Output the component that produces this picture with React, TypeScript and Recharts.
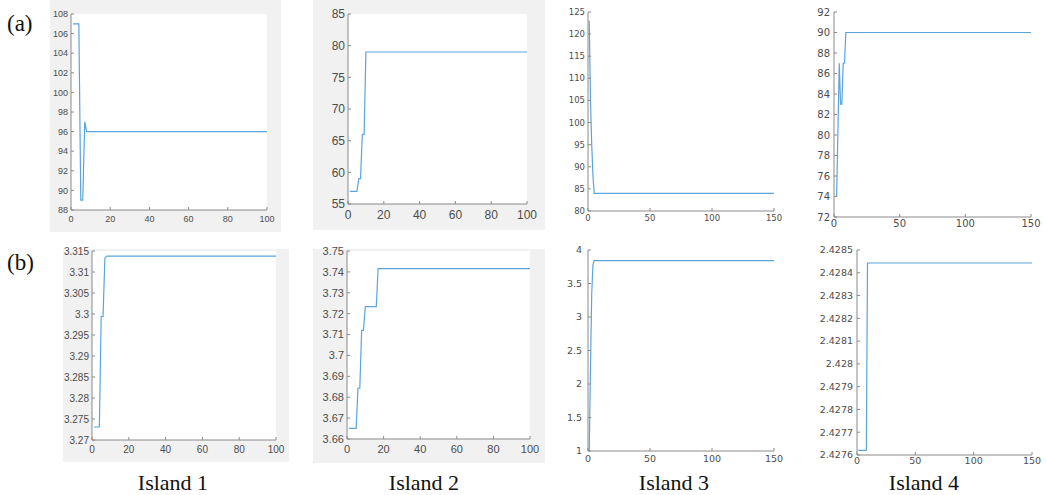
import React from "react";
import { LineChart, Line, XAxis, YAxis, CartesianGrid } from "recharts";

// iteration where the value changes, and the value there (lines are straight between them)
const a1X = [1, 4, 5, 6, 7, 8, 100];
const a1Y = [107, 107, 89, 89, 97, 96, 96];
const a2X = [1, 5, 6, 7, 8, 9, 10, 100];
const a2Y = [57, 57, 59, 59, 66, 66, 79, 79];
const a3X = [1, 2, 3, 4, 5, 150];
const a3Y = [123, 105, 95, 88, 84, 84];
const a4X = [1, 2, 4, 5, 6, 7, 8, 9, 150];
const a4Y = [74, 74, 87, 83, 83, 87, 87, 90, 90];

const b1X = [1, 4, 5, 6, 7, 8, 100];
const b1Y = [3.2731, 3.2731, 3.2994, 3.2994, 3.3133, 3.3138, 3.3138];
const b2X = [1, 5, 6, 7, 8, 9, 10, 16, 17, 100];
const b2Y = [3.6651, 3.6651, 3.6843, 3.6843, 3.712, 3.712, 3.7234, 3.7234, 3.7416, 3.7416];
const b3X = [1, 2, 3, 4, 5, 150];
const b3Y = [1.0, 2.25, 3.35, 3.78, 3.84, 3.84];
const b4X = [1, 8, 9, 150];
const b4Y = [2.42762, 2.42762, 2.428443, 2.428443];

// tick labels
const ticks100 = [0, 20, 40, 60, 80, 100];
const ticks150 = [0, 50, 100, 150];
const a1Ticks = [88, 90, 92, 94, 96, 98, 100, 102, 104, 106, 108];
const a2Ticks = [55, 60, 65, 70, 75, 80, 85];
const a3Ticks = [80, 85, 90, 95, 100, 105, 110, 115, 120, 125];
const a4Ticks = [72, 74, 76, 78, 80, 82, 84, 86, 88, 90, 92];
const b1Ticks = [3.27, 3.275, 3.28, 3.285, 3.29, 3.295, 3.3, 3.305, 3.31, 3.315];
const b2Ticks = [3.66, 3.67, 3.68, 3.69, 3.7, 3.71, 3.72, 3.73, 3.74, 3.75];
const b3Ticks = [1, 1.5, 2, 2.5, 3, 3.5, 4];
const b4Ticks = [2.4276, 2.4277, 2.4278, 2.4279, 2.428, 2.4281, 2.4282, 2.4283, 2.4284, 2.4285];

const islands = ["Island 1", "Island 2", "Island 3", "Island 4"];
const islandCenters = [173, 424, 674, 924];

const lineColor = "#5aa5dc";
const boxColor = "#8a8a8a";
const textColor = "#4d4d4d";
const sans = "Liberation Sans, Arial, sans-serif";
const wide = "DejaVu Sans, Verdana, sans-serif";
const serif = "'Liberation Serif', 'Times New Roman', serif";

const Panel = ({ px, py, w, h, xs, ys, xTicks, yTicks, font, size, xGap, yGap }) => {
  const yW = 60;
  const mT = 8;
  const mR = 18;
  const xH = 24;
  const data = xs.map((x, i) => ({ x, y: ys[i] }));
  const xDom = [xTicks[0], xTicks[xTicks.length - 1]];
  const yDom = [yTicks[0], yTicks[yTicks.length - 1]];
  const tickStyle = { fontSize: size, fontFamily: font, fill: textColor };

  return (
    <div style={{ position: "absolute", left: px - yW, top: py - mT }}>
      <LineChart
        width={yW + w + mR}
        height={mT + h + xH}
        data={data}
        margin={{ top: mT, right: mR, left: 0, bottom: 0 }}
      >
        <CartesianGrid xAxisId="b" yAxisId="l" fill="#ffffff" horizontal={false} vertical={false} />
        <XAxis
          xAxisId="b"
          dataKey="x"
          type="number"
          domain={xDom}
          ticks={xTicks}
          interval={0}
          height={xH}
          tickSize={-3}
          tickMargin={xGap + 3}
          stroke={boxColor}
          tick={tickStyle}
        />
        <XAxis
          xAxisId="t"
          orientation="top"
          type="number"
          domain={xDom}
          ticks={xTicks}
          interval={0}
          mirror
          height={0}
          tick={false}
          tickSize={3}
          stroke={boxColor}
        />
        <YAxis
          yAxisId="l"
          type="number"
          domain={yDom}
          ticks={yTicks}
          interval={0}
          width={yW}
          tickSize={-3}
          tickMargin={yGap + 3}
          stroke={boxColor}
          tick={tickStyle}
        />
        <YAxis
          yAxisId="r"
          orientation="right"
          type="number"
          domain={yDom}
          ticks={yTicks}
          interval={0}
          mirror
          width={0}
          tick={false}
          tickSize={3}
          stroke={boxColor}
        />
        <Line
          xAxisId="b"
          yAxisId="l"
          dataKey="y"
          type="linear"
          stroke={lineColor}
          strokeWidth={1.2}
          dot={false}
          isAnimationActive={false}
        />
      </LineChart>
    </div>
  );
};

const greyBoxes = [
  { left: 50, top: 0, width: 231, height: 232 },
  { left: 313, top: 0, width: 232, height: 230 },
  { left: 63, top: 249, width: 226, height: 213 },
  { left: 313, top: 249, width: 232, height: 214 },
];

export default function App() {
  return (
    <div
      style={{
        position: "absolute",
        left: 0,
        top: 0,
        width: 1046,
        height: 495,
        background: "#ffffff",
        overflow: "hidden",
      }}
    >
      {greyBoxes.map((b, i) => (
        <div key={i} style={{ position: "absolute", background: "#f0f1f0", ...b }} />
      ))}

      <Panel px={71} py={14} w={196} h={196} xs={a1X} ys={a1Y} xTicks={ticks100} yTicks={a1Ticks} font={sans} size={9} xGap={6} yGap={3} />
      <Panel px={348} py={14} w={179} h={190} xs={a2X} ys={a2Y} xTicks={ticks100} yTicks={a2Ticks} font={sans} size={12} xGap={6} yGap={3} />
      <Panel px={588} py={12} w={186} h={199} xs={a3X} ys={a3Y} xTicks={ticks150} yTicks={a3Ticks} font={wide} size={8.5} xGap={4} yGap={3} />
      <Panel px={834} py={12} w={197} h={205} xs={a4X} ys={a4Y} xTicks={ticks150} yTicks={a4Ticks} font={wide} size={10} xGap={3} yGap={4} />

      <Panel px={92} py={251} w={184} h={189} xs={b1X} ys={b1Y} xTicks={ticks100} yTicks={b1Ticks} font={sans} size={10} xGap={6} yGap={3} />
      <Panel px={347} py={251} w={183} h={188} xs={b2X} ys={b2Y} xTicks={ticks100} yTicks={b2Ticks} font={sans} size={11} xGap={6} yGap={3} />
      <Panel px={588} py={250} w={186} h={201} xs={b3X} ys={b3Y} xTicks={ticks150} yTicks={b3Ticks} font={wide} size={9.5} xGap={4} yGap={6} />
      <Panel px={857} py={250} w={175} h={205} xs={b4X} ys={b4Y} xTicks={ticks150} yTicks={b4Ticks} font={wide} size={9.5} xGap={2} yGap={4} />

      <svg
        width={1046}
        height={495}
        style={{ position: "absolute", left: 0, top: 0, pointerEvents: "none" }}
      >
        <text x={7} y={31} fontSize={23} fill="#111" style={{ fontFamily: serif }}>(a)</text>
        <text x={7} y={270} fontSize={23} fill="#111" style={{ fontFamily: serif }}>(b)</text>
        {islands.map((name, i) => (
          <text
            key={name}
            x={islandCenters[i]}
            y={490}
            fontSize={22}
            textAnchor="middle"
            fill="#111"
            style={{ fontFamily: serif }}
          >
            {name}
          </text>
        ))}
      </svg>
    </div>
  );
}
